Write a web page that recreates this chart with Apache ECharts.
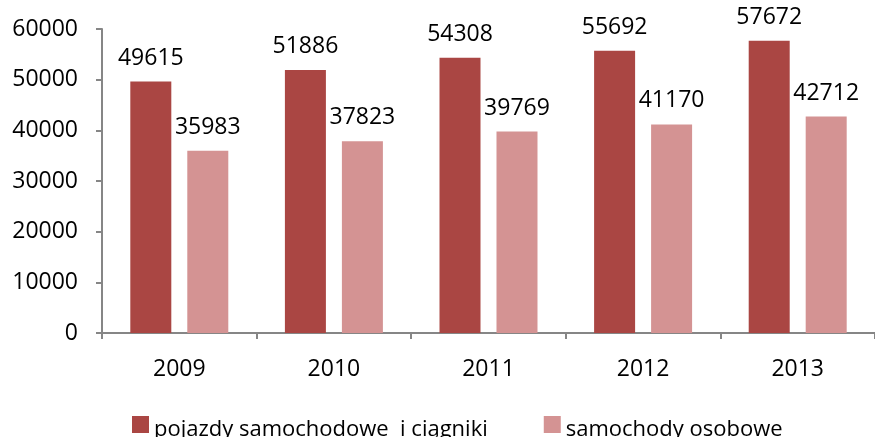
<!DOCTYPE html>
<html>
<head>
<meta charset="utf-8">
<script src="https://cdn.jsdelivr.net/npm/echarts@6/dist/echarts.min.js"></script>
<style>
  html, body { margin: 0; padding: 0; background: #fff; }
  #chart { width: 875px; height: 437px; }
</style>
</head>
<body>
<div id="chart"></div>
<script>
const years = ['2009', '2010', '2011', '2012', '2013']
const pojazdy = [49615, 51886, 54308, 55692, 57672]
const osobowe = [35983, 37823, 39769, 41170, 42712]
const seriesNames = ['pojazdy samochodowe  i ciągniki', 'samochody osobowe']

const font = '"Open Sans", "Noto Sans", sans-serif'
const myChart = echarts.init(document.getElementById('chart'))

const labelStyle = {
  show: true,
  position: 'top',
  distance: 12,
  color: '#000',
  fontSize: 23,
  fontFamily: font
}

myChart.setOption({
  animation: false,
  grid: {
    left: 102,
    top: 29,
    width: 785,
    bottom: 104
  },
  legend: {
    data: seriesNames,
    left: 132,
    top: 416,
    padding: 0,
    itemWidth: 17,
    itemHeight: 17,
    itemGap: 56,
    icon: 'rect',
    formatter: '{t|{name}}',
    textStyle: {
      fontSize: 22,
      fontFamily: font,
      color: '#000',
      rich: {
        t: {
          fontSize: 22,
          fontFamily: font,
          color: '#000',
          padding: [10, 0, 0, 0]
        }
      }
    }
  },
  xAxis: {
    type: 'category',
    data: years,
    axisLine: { lineStyle: { color: '#868686', width: 2 } },
    axisTick: { show: true, length: 6, lineStyle: { color: '#868686', width: 2 } },
    axisLabel: {
      margin: 25,
      color: '#000',
      fontSize: 23,
      fontFamily: font
    }
  },
  yAxis: {
    type: 'value',
    min: 0,
    max: 60000,
    interval: 10000,
    splitLine: { show: false },
    axisLine: { show: true, lineStyle: { color: '#868686', width: 2 } },
    axisTick: { show: true, length: 6, lineStyle: { color: '#868686', width: 2 } },
    axisLabel: {
      margin: 24,
      color: '#000',
      fontSize: 23,
      fontFamily: font,
      formatter: v => String(v)
    }
  },
  series: [{
    name: seriesNames[0],
    type: 'bar',
    data: pojazdy,
    barWidth: 41,
    barGap: '39%',
    itemStyle: { color: '#AA4643' },
    label: labelStyle
  }, {
    name: seriesNames[1],
    type: 'bar',
    data: osobowe,
    barWidth: 41,
    itemStyle: { color: '#D49393' },
    label: labelStyle
  }]
})
</script>
</body>
</html>
